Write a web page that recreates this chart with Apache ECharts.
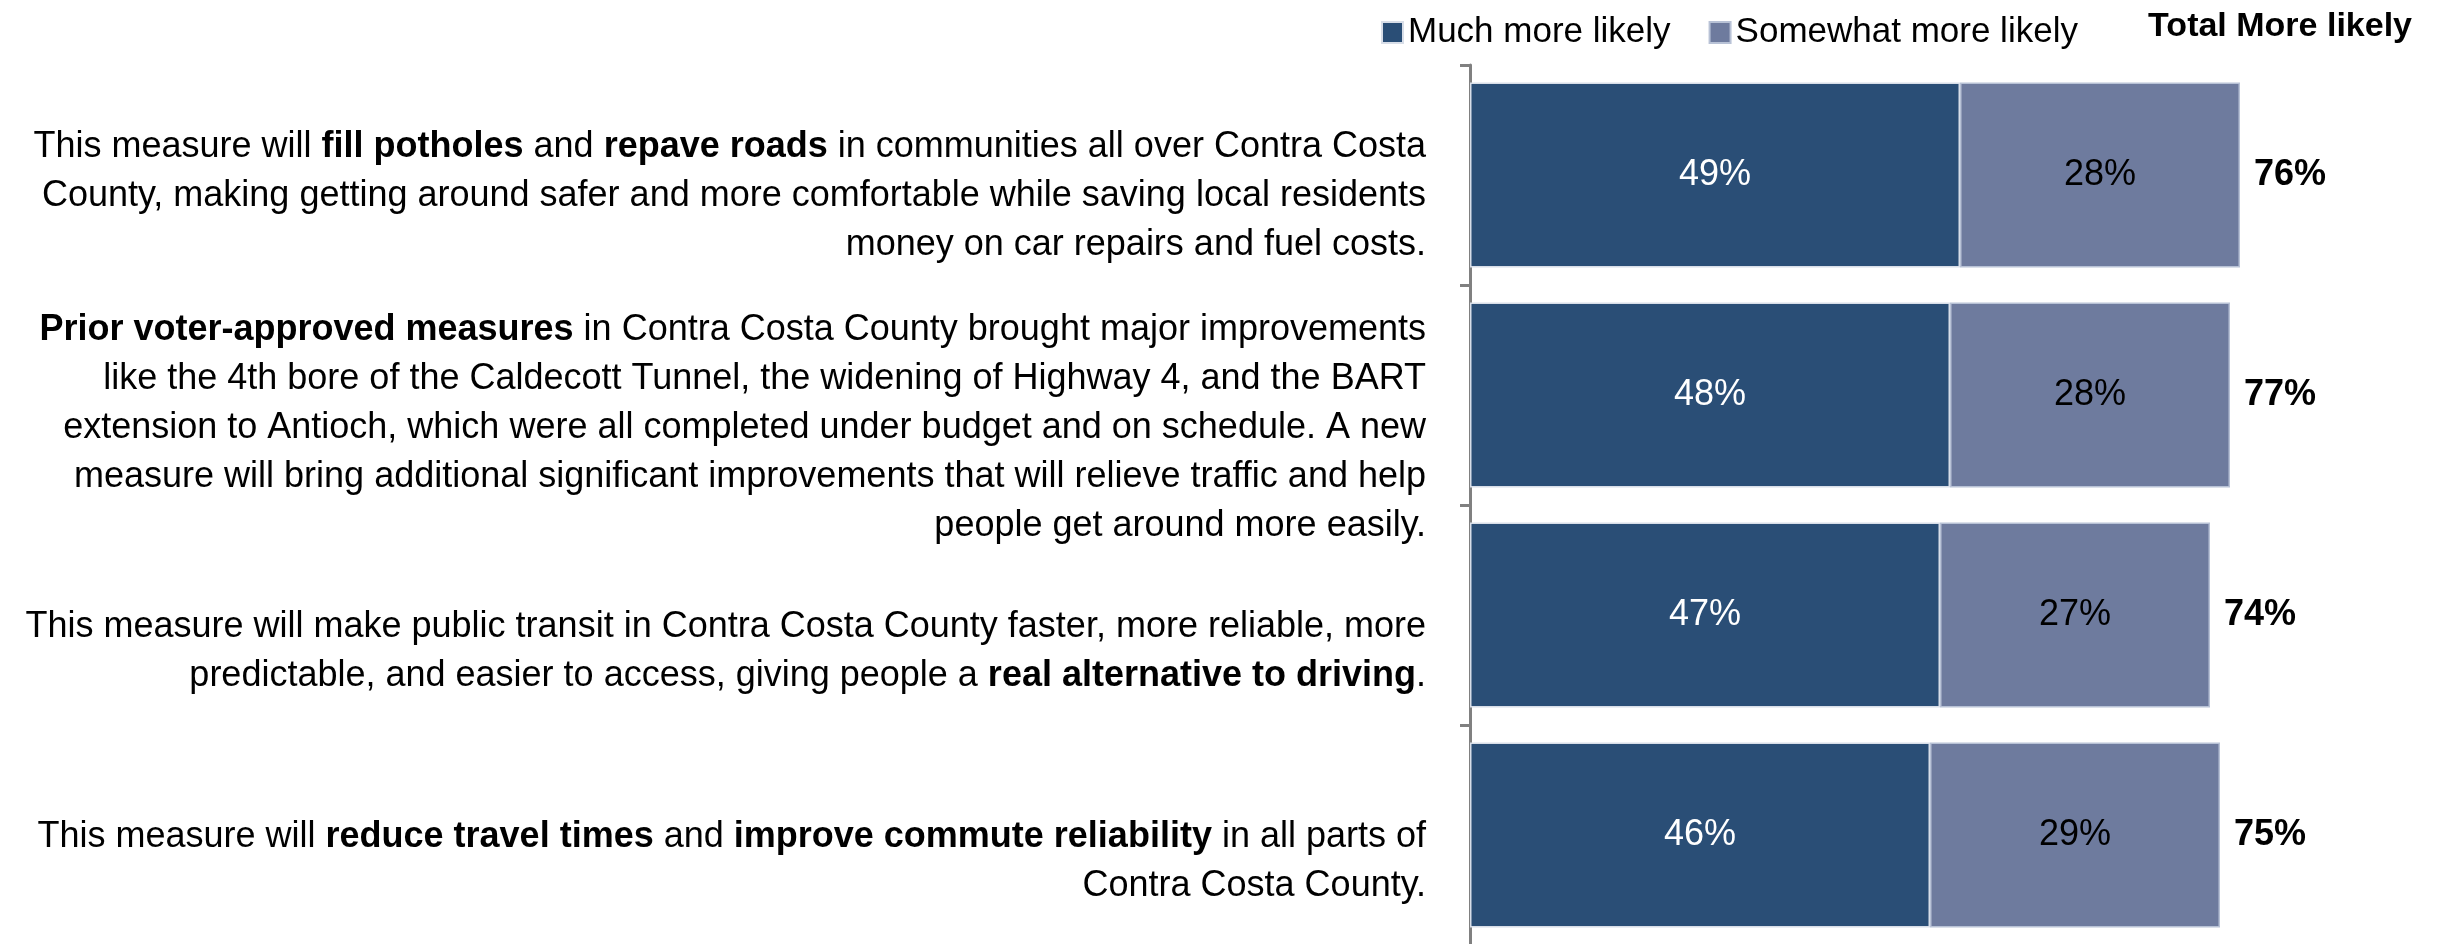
<!DOCTYPE html>
<html>
<head>
<meta charset="utf-8">
<script src="https://cdn.jsdelivr.net/npm/echarts@6/dist/echarts.min.js"></script>
<style>
  html, body { margin: 0; padding: 0; background: #ffffff; }
  #chart { width: 2446px; height: 944px; }
</style>
</head>
<body>
<div id="chart"></div>
<script>
// Statements tested, top to bottom; {b|...} marks the bold phrases.
const statements = [
  'This measure will {b|fill potholes} and {b|repave roads} in communities all over Contra Costa\nCounty, making getting around safer and more comfortable while saving local residents\nmoney on car repairs and fuel costs.',
  '{b|Prior voter-approved measures} in Contra Costa County brought major improvements\nlike the 4th bore of the Caldecott Tunnel, the widening of Highway 4, and the BART\nextension to Antioch, which were all completed under budget and on schedule. A new\nmeasure will bring additional significant improvements that will relieve traffic and help\npeople get around more easily.',
  'This measure will make public transit in Contra Costa County faster, more reliable, more\npredictable, and easier to access, giving people a {b|real alternative to driving}.',
  'This measure will {b|reduce travel times} and {b|improve commute reliability} in all parts of\nContra Costa County.'
];
const muchMoreLikely = [49, 48, 47, 46];
const somewhatMoreLikely = [28, 28, 27, 29];
const totalMoreLikely = [76, 77, 74, 75];

const seriesNames = ['Much more likely', 'Somewhat more likely'];
const totalHeader = 'Total More likely';

// Top padding nudges each statement block below its bar's centre line
const labelTopPad = [42, 66, 74, 54];

const FONT = '"Liberation Sans", sans-serif';
const DARK = '#2a4e76';
const LIGHT = '#6e7b9e';

const chart = echarts.init(document.getElementById('chart'), null, { renderer: 'canvas' });

chart.setOption({
  animation: false,
  backgroundColor: '#ffffff',
  textStyle: { fontFamily: FONT },
  legend: {
    data: seriesNames,
    left: 1376,
    top: 10,
    itemWidth: 21,
    itemHeight: 21,
    itemGap: 38,
    icon: 'rect',
    textStyle: { fontFamily: FONT, fontSize: 35, color: '#000000' }
  },
  graphic: [{
    type: 'text',
    right: 34,
    top: 10,
    style: {
      text: totalHeader,
      font: 'bold 34px ' + FONT,
      fill: '#000000'
    }
  }],
  grid: {
    left: 1470,
    top: 65,
    width: 1000,
    height: 880,
    containLabel: false,
    outerBoundsMode: 'none'
  },
  xAxis: {
    type: 'value',
    min: 0,
    max: 100,
    show: false
  },
  yAxis: {
    type: 'category',
    inverse: true,
    data: statements.map((s, i) => ({
      value: s,
      textStyle: { padding: [labelTopPad[i], 0, 0, 0] }
    })),
    axisLine: { show: true, lineStyle: { color: '#808080', width: 3 } },
    axisTick: { show: true, length: 10, lineStyle: { color: '#808080', width: 3 } },
    axisLabel: {
      interval: 0,
      hideOverlap: false,
      margin: 44,
      fontFamily: FONT,
      fontSize: 36,
      lineHeight: 49,
      color: '#000000',
      align: 'right',
      rich: {
        b: { fontFamily: FONT, fontSize: 36, lineHeight: 49, fontWeight: 'bold', color: '#000000' }
      }
    }
  },
  series: [
    {
      name: seriesNames[0],
      type: 'bar',
      stack: 'likely',
      barCategoryGap: '16%',
      data: muchMoreLikely,
      itemStyle: { color: DARK, borderColor: '#d8dee8', borderWidth: 1.5 },
      label: {
        show: true,
        position: 'inside',
        formatter: '{c}%',
        fontFamily: FONT,
        fontSize: 36,
        color: '#ffffff'
      }
    },
    {
      name: seriesNames[1],
      type: 'bar',
      stack: 'likely',
      data: somewhatMoreLikely,
      itemStyle: { color: LIGHT, borderColor: '#b8c2d6', borderWidth: 1.5 },
      label: {
        show: true,
        position: 'inside',
        formatter: '{c}%',
        fontFamily: FONT,
        fontSize: 36,
        color: '#000000'
      }
    },
    {
      // Zero-width segment at the end of each stack carrying the total label
      name: 'total',
      type: 'bar',
      stack: 'likely',
      data: totalMoreLikely.map(() => 0),
      itemStyle: { color: 'transparent' },
      label: {
        show: true,
        position: 'right',
        distance: 14,
        formatter: (p) => totalMoreLikely[p.dataIndex] + '%',
        fontFamily: FONT,
        fontSize: 36,
        fontWeight: 'bold',
        color: '#000000'
      }
    }
  ]
});
</script>
</body>
</html>
